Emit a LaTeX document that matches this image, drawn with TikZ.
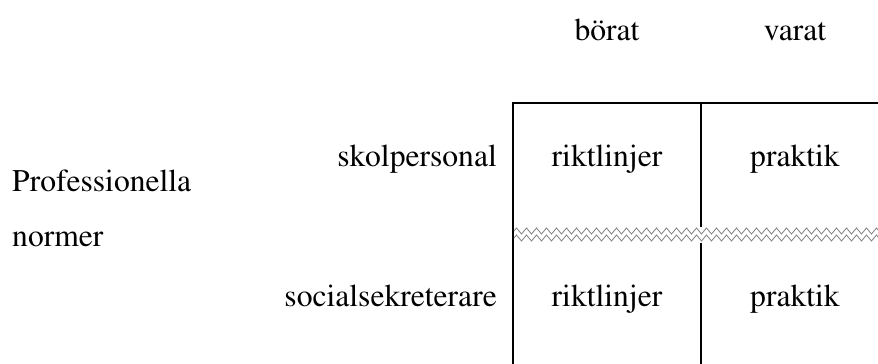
\documentclass[tikz,border=0pt]{standalone}
\usepackage[T1]{fontenc}
\usepackage{times}
\usetikzlibrary{positioning}
\usetikzlibrary{decorations.pathmorphing}
\begin{document}
\begin{tikzpicture}[x=1pt,y=-1pt,
        every node/.style={inner sep=0pt, anchor=base, font=\fontsize{31.6}{38}\selectfont},
        grid/.style={draw, line width=1.3pt},
        wave/.style={draw=gray, line width=0.8pt, decorate,
                     decoration={zigzag, segment length=10pt, amplitude=3pt}}]
    \useasboundingbox (0,0) rectangle (878,364);
    % rutnaet
    \coordinate (tl) at (513,103);
    \coordinate (tm) at (701,103);
    \coordinate (tr) at (890,103);
    \coordinate (bl) at (513,370);
    \coordinate (bm) at (701,370);
    \draw[grid] (bl) -- (tl) -- (tr);
    \draw[grid] (tm) -- (bm);
    % brott
    \fill[white] (514,227) rectangle (890,243);
    \draw[wave] (514,231) -- (890,231);
    \draw[wave] (514,238) -- (890,238);
    % rubriker
    \node (borat) at (607,40) {b\"orat};
    \node (varat) at (795,40) {varat};
    \node[anchor=base west] (prof) at (12,191) {Professionella};
    \node[anchor=base west] (norm) at (12,246) {normer};
    \node[anchor=base east] (skol) at (497,166) {skolpersonal};
    \node[anchor=base east] (soc) at (497,306) {socialsekreterare};
    % celler
    \node (rikt1) at (607,166) {riktlinjer};
    \node (prak1) at (795,166) {praktik};
    \node (rikt2) at (607,306) {riktlinjer};
    \node (prak2) at (795,306) {praktik};
\end{tikzpicture}
\end{document}
